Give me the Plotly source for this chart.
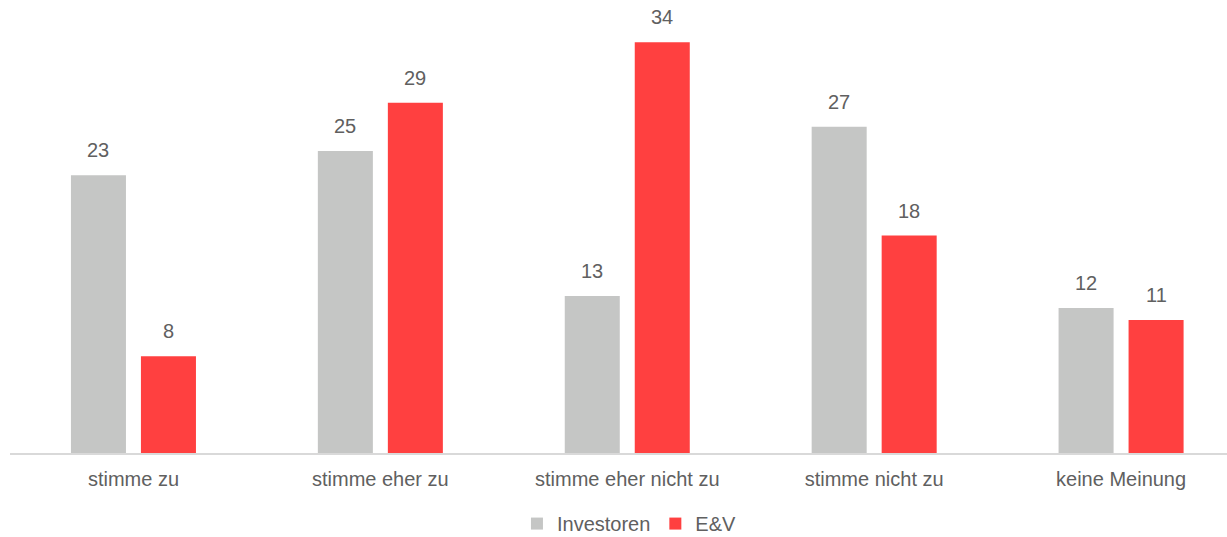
import plotly.graph_objects as go

categories = ["stimme zu", "stimme eher zu", "stimme eher nicht zu", "stimme nicht zu", "keine Meinung"]
investoren = [23, 25, 13, 27, 12]
ev = [8, 29, 34, 18, 11]

GRAY = "#c5c6c5"
RED = "#ff4040"
TEXT = "#606060"
FONT = "Liberation Sans"

fig = go.Figure()
fig.add_trace(go.Bar(name="Investoren", x=categories, y=investoren, marker_color=GRAY,
                     marker_line_width=0))
fig.add_trace(go.Bar(name="E&V", x=categories, y=ev, marker_color=RED,
                     marker_line_width=0))

# value labels above each bar
for series, shift in ((investoren, -35), (ev, 35)):
    for cat, val in zip(categories, series):
        fig.add_annotation(x=cat, y=val, text=str(val), showarrow=False,
                           xshift=shift, yshift=25, yanchor="middle",
                           font=dict(family=FONT, size=20, color=TEXT))

fig.update_layout(
    width=1227, height=537,
    margin=dict(l=10, r=0, t=10, b=84, autoexpand=False),
    paper_bgcolor="white", plot_bgcolor="white",
    barmode="group", bargap=0.433, bargroupgap=0.214,
    font=dict(family=FONT, size=20, color=TEXT),
    showlegend=True,
    legend=dict(orientation="h", x=0.509, xanchor="center",
                yref="container", y=0.025, yanchor="middle",
                font=dict(family=FONT, size=20, color=TEXT), itemwidth=30,
                traceorder="normal"),
)
fig.update_xaxes(range=[-0.5, 4.429], showline=True, linecolor="#d9d9d9", linewidth=2,
                 showgrid=False, ticks="", automargin=False, ticklabelstandoff=7,
                 tickfont=dict(family=FONT, size=20, color=TEXT), fixedrange=True)
fig.update_yaxes(range=[0, 443 / 12.08], visible=False, showgrid=False, zeroline=False,
                 fixedrange=True)

fig.write_html("out.html")
